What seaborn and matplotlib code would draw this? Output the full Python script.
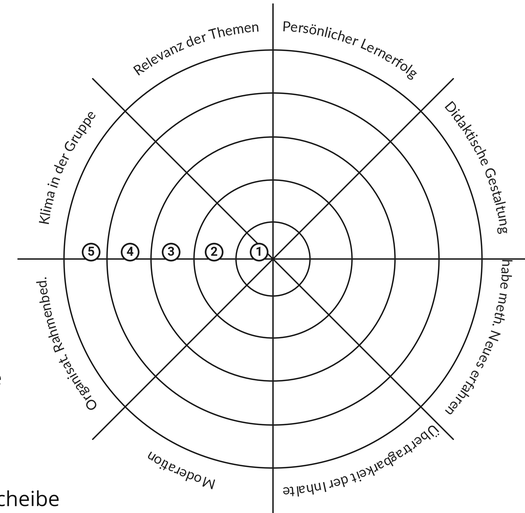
import io
import numpy as np
import pandas as pd
import matplotlib
matplotlib.use("Agg")
import matplotlib.pyplot as plt
from matplotlib.patches import Circle
from matplotlib.font_manager import FontProperties
from matplotlib.textpath import TextPath
from PIL import Image
import seaborn as sns

# Rings of the target (radius in px, ring 1 = innermost)
ring_radii = [37, 79, 122, 166, 209]
ring_numbers = ["1", "2", "3", "4", "5"]
number_radii = [14, 59, 102, 143, 182]

# Spokes (degrees) and their length
spoke_angles = [0, 45, 90, 135, 180, 225, 270, 315]
spoke_length = 255

# Sector labels, clockwise from the top
sector_labels = [
    "Persönlicher Lernerfolg",
    "Didaktische Gestaltung",
    "habe meth. Neues erfahren",
    "Übertragbarkeit der Inhalte",
    "Moderation",
    "Organisat. Rahmenbed.",
    "Klima in der Gruppe",
    "Relevanz der Themen",
]
label_angles = [70, 24, -21, -67, -114, -158, 156, 110]
label_radius = 228

W, H = 525, 513
CX, CY = 273, 259
LINE = "#1a1a1a"
DPI = 100
FONT_PT = 10

sns.set_theme(style="white")
plt.rcParams["font.family"] = ["Lato", "DejaVu Sans"]

fig = plt.figure(figsize=(W / DPI, H / DPI), dpi=DPI)
ax = fig.add_axes([0, 0, 1, 1])
ax.set_xlim(-CX, W - CX)
ax.set_ylim(-(H - CY), CY)
ax.set_aspect("equal")
ax.axis("off")

# rings
for r in ring_radii:
    ax.add_patch(Circle((0, 0), r, fill=False, edgecolor=LINE, linewidth=1.0))

# spokes
rows = []
for a in spoke_angles:
    t = np.radians(a)
    rows.append({"spoke": a, "x": 0.0, "y": 0.0})
    rows.append({"spoke": a, "x": spoke_length * np.cos(t), "y": spoke_length * np.sin(t)})
spokes = pd.DataFrame(rows)
sns.lineplot(data=spokes, x="x", y="y", units="spoke", estimator=None, sort=False,
             color=LINE, linewidth=1.0, ax=ax, legend=False)

# circled ring numbers on the left horizontal spoke
nums = pd.DataFrame({"x": [-r for r in number_radii], "y": [7] * len(number_radii),
                     "label": ring_numbers})
sns.scatterplot(data=nums, x="x", y="y", marker="o", s=150, facecolor="white",
                edgecolor=LINE, linewidth=1.2, ax=ax, zorder=5, legend=False)
for _, row in nums.iterrows():
    ax.text(row["x"], row["y"] - 0.3, row["label"], ha="center", va="center",
            fontsize=9, fontweight="bold", family=["Roboto", "DejaVu Sans"],
            color=LINE, zorder=6)

# curved labels (unhinted glyph metrics, converted from pt to px)
prop = FontProperties(family=["Lato", "DejaVu Sans"], size=FONT_PT)
PX = DPI / 72.0


def ink(s):
    ext = TextPath((0, 0), s, size=FONT_PT, prop=prop).get_extents()
    return ext.x0 * PX, ext.x1 * PX


bar_end = ink("||")[1]


def pen(s):
    # advance width of s (kerning included)
    return ink("|" + s + "|")[1] - bar_end


def curved_label(text, center_deg, radius):
    total = pen(text)
    for i, ch in enumerate(text):
        if ch == " ":
            continue
        x0, x1 = ink(ch)
        mid = pen(text[:i]) + (x0 + x1) / 2
        off = mid - total / 2
        ang = np.radians(center_deg) - off / radius
        ax.text(radius * np.cos(ang), radius * np.sin(ang), ch,
                rotation=np.degrees(ang) - 90, rotation_mode="anchor",
                ha="center", va="baseline", fontproperties=prop, color="#1e1e1e")


for lab, ang in zip(sector_labels, label_angles):
    curved_label(lab, ang, label_radius)

# cut-off slide text on the left
fig.text(60 / W, (H - 506) / H, "Zielscheibe", ha="right", va="baseline",
         fontsize=15, family=["Open Sans", "DejaVu Sans"], color="#111111")
fig.text(2 / W, (H - 385) / H, "Legende", ha="right", va="baseline",
         fontsize=15, family=["Open Sans", "DejaVu Sans"], color="#111111")

# render at 4x and scale down, so the per-glyph pixel snapping of the
# rotated letters does not make the spacing uneven
buf = io.BytesIO()
fig.savefig(buf, format="png", dpi=DPI * 4, facecolor="white")
buf.seek(0)
Image.open(buf).convert("RGB").resize((W, H), Image.LANCZOS).save("out.png")
